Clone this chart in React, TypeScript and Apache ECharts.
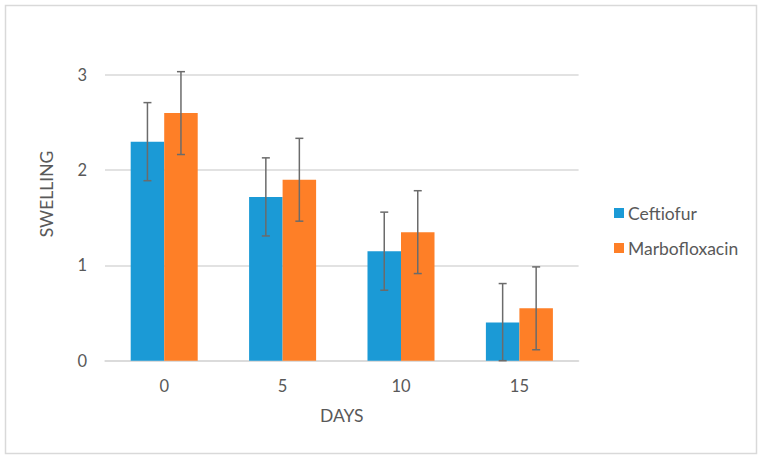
import React, { useEffect, useRef } from "react";
import * as echarts from "echarts";

const categories = ["0", "5", "10", "15"];
const ceftiofur = [2.3, 1.72, 1.15, 0.4];
const marbofloxacin = [2.6, 1.9, 1.35, 0.55];
const ceftiofurErr = [0.41, 0.41, 0.41, 0.41];
const marbofloxacinErr = [0.435, 0.435, 0.435, 0.435];
const seriesNames = ["Ceftiofur", "Marbofloxacin"];
const yTicks = [0, 1, 2, 3];
const xTitle = "DAYS";
const yTitle = "SWELLING";

const BAR_FRAC = 0.283;
const FONT = "Lato, 'Open Sans', sans-serif";
const TEXT_COLOR = "#595959";

function errData(vals: number[], errs: number[]) {
  return vals.map((v, i) => [i, Math.max(0, v - errs[i]), v + errs[i]]);
}

function makeErrRender(side: number) {
  return (params: any, api: any) => {
    const x = api.value(0);
    const lo = api.coord([x, api.value(1)]);
    const hi = api.coord([x, api.value(2)]);
    const band = api.size([1, 0])[0];
    const cx = lo[0] + side * band * BAR_FRAC / 2;
    const cap = 4;
    const style = { stroke: "#6b6b6b", lineWidth: 1.5, fill: "none" };
    return {
      type: "group",
      children: [
        { type: "line", shape: { x1: cx, y1: hi[1], x2: cx, y2: lo[1] }, style },
        { type: "line", shape: { x1: cx - cap, y1: hi[1], x2: cx + cap, y2: hi[1] }, style },
        { type: "line", shape: { x1: cx - cap, y1: lo[1], x2: cx + cap, y2: lo[1] }, style },
      ],
    };
  };
}

export default function App() {
  const ref = useRef<HTMLDivElement>(null);
  useEffect(() => {
    const chart = echarts.init(ref.current!, undefined, { renderer: "svg" });
    chart.setOption({
      animation: false,
      backgroundColor: "#ffffff",
      textStyle: { fontFamily: FONT },
      graphic: [
        {
          type: "rect",
          shape: { x: 5.5, y: 5.5, width: 751, height: 448 },
          style: { fill: "none", stroke: "#d9d9d9", lineWidth: 1.5 },
          silent: true,
        },
        {
          type: "text",
          x: 46,
          y: 194,
          rotation: Math.PI / 2,
          style: {
            text: yTitle,
            fontSize: 17.5,
            fontFamily: FONT,
            fill: TEXT_COLOR,
            align: "center",
            verticalAlign: "middle",
          },
          silent: true,
        },
      ],
      grid: { left: 105, right: 181.4, top: 75, bottom: 97.3, containLabel: false },
      legend: {
        orient: "vertical",
        left: 609,
        top: 199,
        icon: "rect",
        itemWidth: 10,
        itemHeight: 10,
        itemGap: 17,
        data: seriesNames,
        textStyle: { fontSize: 17.5, color: TEXT_COLOR, fontFamily: FONT, padding: [0, 0, 0, -1] },
      },
      xAxis: {
        type: "category",
        data: categories,
        name: xTitle,
        nameLocation: "middle",
        nameGap: 46,
        nameTextStyle: { fontSize: 17.5, color: TEXT_COLOR, fontFamily: FONT },
        axisLine: { lineStyle: { color: "#d9d9d9", width: 1.5 } },
        axisTick: { show: false },
        axisLabel: { fontSize: 16.5, color: TEXT_COLOR, margin: 17, fontFamily: FONT },
      },
      yAxis: {
        type: "value",
        min: yTicks[0],
        max: yTicks[yTicks.length - 1],
        interval: 1,
        axisLine: { show: false },
        axisTick: { show: false },
        axisLabel: { fontSize: 16.5, color: TEXT_COLOR, margin: 18, fontFamily: FONT },
        splitLine: { lineStyle: { color: "#d9d9d9", width: 1.5 } },
      },
      series: [
        {
          name: seriesNames[0],
          type: "bar",
          data: ceftiofur,
          barWidth: BAR_FRAC * 100 + "%",
          barGap: "0%",
          itemStyle: { color: "#1b9ad6" },
        },
        {
          name: seriesNames[1],
          type: "bar",
          data: marbofloxacin,
          barWidth: BAR_FRAC * 100 + "%",
          barGap: "0%",
          itemStyle: { color: "#fe7f27" },
        },
        {
          type: "custom",
          renderItem: makeErrRender(-1),
          data: errData(ceftiofur, ceftiofurErr),
          clip: false,
          z: 10,
          silent: true,
        },
        {
          type: "custom",
          renderItem: makeErrRender(1),
          data: errData(marbofloxacin, marbofloxacinErr),
          clip: false,
          z: 10,
          silent: true,
        },
      ],
    });
    return () => chart.dispose();
  }, []);
  return (
    <div
      ref={ref}
      style={{ position: "fixed", left: 0, top: 0, width: 760, height: 458 }}
    />
  );
}
